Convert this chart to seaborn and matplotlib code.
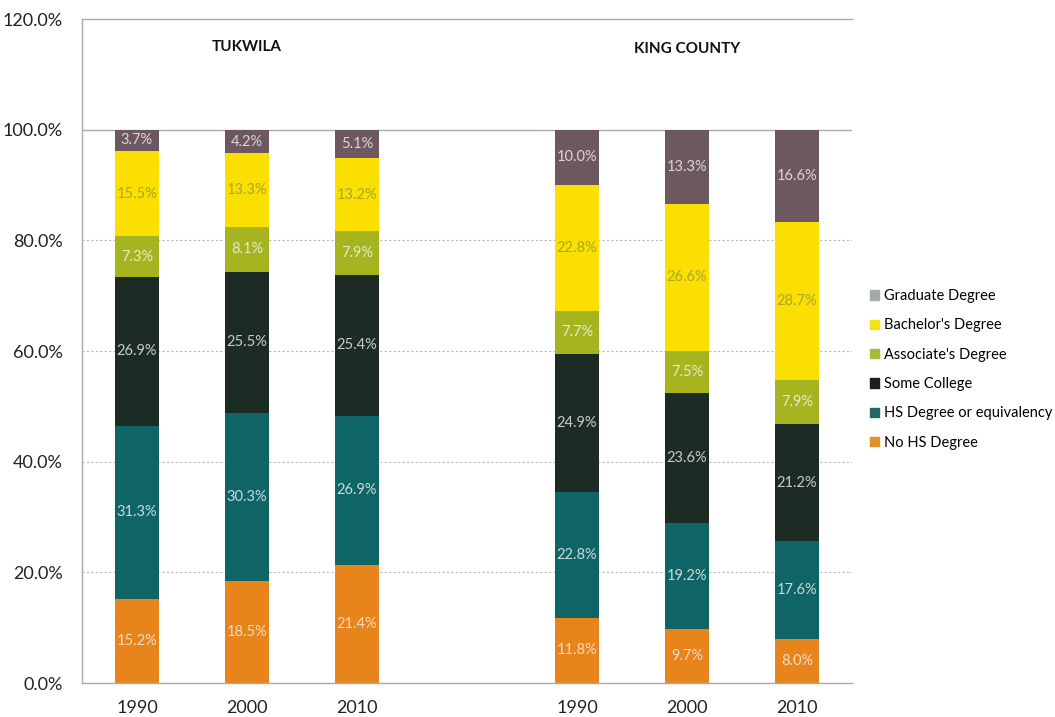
import matplotlib
matplotlib.use("Agg")
import matplotlib.pyplot as plt
import matplotlib.patches as mpatches
import seaborn as sns
import pandas as pd
import numpy as np

# ---- data ----
slots = ["T1990", "T2000", "T2010", "gap", "K1990", "K2000", "K2010"]
tick_labels = ["1990", "2000", "2010", "", "1990", "2000", "2010"]
bar_slots = ["T1990", "T2000", "T2010", "K1990", "K2000", "K2010"]
categories = ["No HS Degree", "HS Degree or equivalency", "Some College",
              "Associate's Degree", "Bachelor's Degree", "Graduate Degree"]
no_hs = [15.2, 18.5, 21.4, 11.8, 9.7, 8.0]
hs = [31.3, 30.3, 26.9, 22.8, 19.2, 17.6]
some_college = [26.9, 25.5, 25.4, 24.9, 23.6, 21.2]
associate = [7.3, 8.1, 7.9, 7.7, 7.5, 7.9]
bachelor = [15.5, 13.3, 13.2, 22.8, 26.6, 28.7]
graduate = [3.7, 4.2, 5.1, 10.0, 13.3, 16.6]
group_titles = ["TUKWILA", "KING COUNTY"]

series = [no_hs, hs, some_college, associate, bachelor, graduate]
bar_colors = ["#e8841c", "#0f6466", "#1d2b25", "#a6b51f", "#fbdf00", "#6c585e"]
legend_colors = ["#e0902a", "#23696a", "#1c1f1e", "#a8b83a", "#f2e21a", "#a3abaa"]
label_colors = ["#f6dcc0", "#c9dada", "#c6ccc8", "#e4ecc6", "#a9a628", "#dcd6d8"]

font = "Lato"
plt.rcParams["font.family"] = [font, "DejaVu Sans"]

fig = plt.figure(figsize=(10.55, 7.17), dpi=100)
ax = fig.add_axes([0.0777, 0.0474, 0.7299, 0.9261])

cum = np.cumsum(np.array(series), axis=0)
# draw from top layer down so lower layers overlay
for k in range(len(series) - 1, -1, -1):
    df = pd.DataFrame({"slot": bar_slots, "value": cum[k]})
    sns.barplot(data=df, x="slot", y="value", order=slots, color=bar_colors[k],
                saturation=1, width=0.4, errorbar=None, ax=ax, linewidth=0)

pos = {s: i for i, s in enumerate(slots)}
for k, vals in enumerate(series):
    for j, s in enumerate(bar_slots):
        base = cum[k][j] - vals[j]
        ax.text(pos[s], base + vals[j] / 2, f"{vals[j]:.1f}%", ha="center", va="center",
                fontsize=10.5, color=label_colors[k])

ax.set_ylim(0, 120)
ax.set_xlim(-0.5, 6.5)
ax.set_yticks(np.arange(0, 121, 20))
ax.set_yticklabels([f"{v:.1f}%" for v in np.arange(0, 121, 20)], fontsize=13, color="#222222")
ax.set_xticks(range(len(slots)))
ax.set_xticklabels(tick_labels, fontsize=13, color="#222222")
ax.set_xlabel("")
ax.set_ylabel("")
ax.tick_params(axis="y", length=0, pad=14)
ax.tick_params(axis="x", length=0, pad=12)

for y in [20, 40, 60, 80]:
    ax.axhline(y, color="#b8b8b8", lw=0.8, ls=(0, (2, 2)), zorder=0)
ax.axhline(100, color="#aaaaaa", lw=1.0, zorder=0)
for side in ["right"]:
    ax.spines[side].set_visible(False)
for side in ["left", "bottom", "top"]:
    ax.spines[side].set_color("#aaaaaa")
    ax.spines[side].set_linewidth(1.0)

ax.text(1, 115, group_titles[0], ha="center", va="center", fontsize=11, fontweight="bold", color="#111111")
ax.text(5, 114.6, group_titles[1], ha="center", va="center", fontsize=11, fontweight="bold", color="#111111")

handles = [mpatches.Patch(color=legend_colors[k], label=categories[k]) for k in range(len(categories) - 1, -1, -1)]
fig.legend(handles=handles, loc="upper left", bbox_to_anchor=(0.812, 0.615), frameon=False,
           fontsize=10.5, handlelength=0.6, handleheight=0.6, handletextpad=0.4,
           labelspacing=1.05)

fig.savefig("out.png", dpi=100)
